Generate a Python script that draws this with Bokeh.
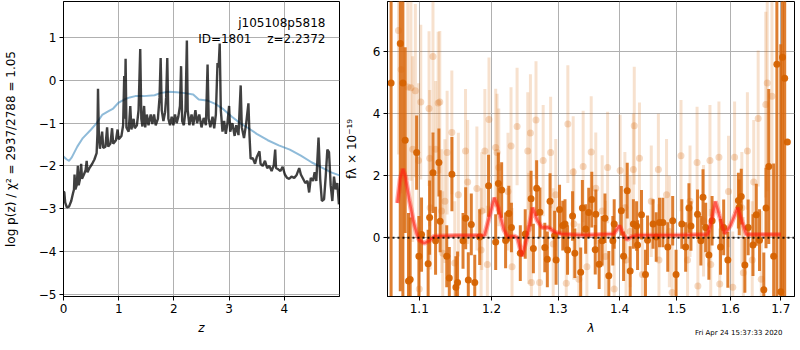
import numpy as np
from bokeh.plotting import figure
from bokeh.layouts import row, column
from bokeh.models import (ColumnDataSource, Range1d, FixedTicker, CustomJSTickFormatter,
                          PrintfTickFormatter, Label, Span, Div)
from bokeh.embed import file_html
from bokeh.resources import INLINE

FONT = "DejaVu Sans"

# ---------------- left panel: log p(z) ----------------
z_grid = [0.00, 0.015, 0.03, 0.06, 0.10, 0.14, 0.17, 0.19, 0.20, 0.215, 0.24, 0.26, 0.275, 0.30,
          0.32, 0.335, 0.37, 0.40, 0.42, 0.435, 0.47, 0.52, 0.56, 0.60, 0.615, 0.625, 0.64, 0.66,
          0.70, 0.72, 0.76, 0.79, 0.81, 0.85, 0.88, 0.90, 0.95, 0.98, 1.00, 1.05, 1.08, 1.10,
          1.11, 1.125, 1.14, 1.18, 1.21, 1.23, 1.27, 1.29, 1.33, 1.36, 1.39, 1.41, 1.43, 1.46,
          1.48, 1.51, 1.54, 1.58, 1.61, 1.64, 1.67, 1.71, 1.74, 1.76, 1.78, 1.81, 1.84, 1.86,
          1.88, 1.90, 1.93, 1.96, 1.99, 2.02, 2.05, 2.08, 2.11, 2.13, 2.15, 2.18, 2.21, 2.235,
          2.25, 2.28, 2.32, 2.35, 2.39, 2.42, 2.46, 2.50, 2.54, 2.58, 2.61, 2.63, 2.66, 2.70,
          2.73, 2.76, 2.79, 2.81, 2.83, 2.85, 2.88, 2.91, 2.94, 2.97, 3.00, 3.02, 3.06, 3.10,
          3.13, 3.17, 3.21, 3.23, 3.27, 3.31, 3.35, 3.37, 3.39, 3.43, 3.47, 3.50, 3.55, 3.57,
          3.61, 3.65, 3.69, 3.73, 3.77, 3.81, 3.835, 3.85, 3.89, 3.93, 3.97, 4.01, 4.05, 4.09,
          4.13, 4.18, 4.22, 4.27, 4.30, 4.34, 4.38, 4.42, 4.45, 4.48, 4.52, 4.55, 4.58, 4.62,
          4.65, 4.68, 4.72, 4.75, 4.78, 4.81, 4.84, 4.87, 4.90, 4.93, 4.96, 4.99]
log_pz = [-2.60, -2.62, -2.85, -2.97, -2.95, -2.82, -2.65, -2.55, -2.20, -2.55, -2.45, -2.00, -2.45, -2.30,
          -1.95, -2.30, -2.20, -2.10, -1.88, -2.15, -2.05, -1.95, -1.85, -1.70, -1.25, -0.20, -1.25, -1.60,
          -1.20, -1.58, -1.55, -1.10, -1.55, -1.48, -1.12, -1.48, -1.40, -1.15, -1.38, -1.30, -1.05, 0.10,
          -0.90, 0.50, -1.10, -1.20, -0.60, -1.15, -0.90, -1.12, -1.05, -0.70, 0.73, -0.90, -1.08, -0.60,
          -1.10, -0.80, -1.05, -0.80, -1.02, -0.80, -1.05, -0.90, -0.40, 0.52, -0.70, -0.95, -0.75, -0.40,
          0.52, -0.90, -1.05, -0.85, -1.05, -0.80, -1.00, -0.85, -0.60, 0.33, -0.95, -1.05, -0.70, 0.93,
          -0.70, -1.05, -0.80, -1.05, -0.70, -1.00, -0.80, -1.10, -0.88, -1.05, 0.37, -0.90, -1.10, -0.85,
          -1.12, -0.80, 0.40, 0.30, 0.86, -0.70, -1.20, -0.95, -1.25, -1.00, -0.60, -1.20, -1.00, -1.30,
          -1.05, -1.28, -0.12, -1.10, -1.35, -1.00, -0.54, -1.30, -1.83, -1.82, -1.95, -1.80, -1.66, -1.95,
          -2.00, -1.88, -2.05, -2.00, -2.12, -1.98, -1.62, -2.05, -2.08, -2.12, -2.02, -2.20, -2.28, -2.30,
          -2.25, -2.28, -2.22, -2.05, -2.20, -2.30, -2.40, -2.35, -2.62, -2.28, -2.35, -2.15, -2.35, -1.34,
          -2.30, -2.82, -2.78, -2.25, -1.62, -1.68, -2.45, -2.82, -2.25, -2.55, -2.40, -2.90]

z_prior = [0.00, 0.06, 0.10, 0.15, 0.25, 0.35, 0.50, 0.60, 0.70, 0.80, 0.90, 1.00, 1.10, 1.20, 1.30,
           1.45, 1.65, 1.75, 1.90, 2.05, 2.20, 2.35, 2.45, 2.60, 2.75, 2.90, 3.05, 3.20, 3.35, 3.50,
           3.70, 3.90, 4.10, 4.30, 4.50, 4.70, 4.85, 5.00]
log_prior = [-1.78, -1.85, -1.88, -1.80, -1.55, -1.35, -1.15, -1.00, -0.81, -0.73, -0.66, -0.52, -0.45,
             -0.40, -0.37, -0.37, -0.35, -0.30, -0.27, -0.28, -0.30, -0.33, -0.45, -0.47, -0.55, -0.68,
             -0.85, -1.00, -1.12, -1.25, -1.40, -1.52, -1.62, -1.76, -1.92, -2.05, -2.15, -2.22]

left_xticks = [0, 1, 2, 3, 4]
left_yticks = [-5, -4, -3, -2, -1, 0, 1]

# ---------------- right panel: spectrum ----------------
dark_wave = [1.0633, 1.0751, 1.0785, 1.0815, 1.0858, 1.0880, 1.0965, 1.0995, 1.1030, 1.1118, 1.1138,
             1.1183, 1.1218, 1.1263, 1.1280, 1.1370, 1.1405, 1.1441, 1.1496, 1.1519, 1.1595, 1.1632,
             1.1669, 1.1711, 1.1760, 1.1830, 1.1957, 1.2060, 1.2099, 1.2147, 1.2205, 1.2252, 1.2291,
             1.2423, 1.2497, 1.2585, 1.2620, 1.2670, 1.2720, 1.2795, 1.2834, 1.2876, 1.2947, 1.2970,
             1.3024, 1.3075, 1.3110, 1.3150, 1.3230, 1.3266, 1.3360, 1.3387, 1.3440, 1.3490, 1.3540,
             1.3596, 1.3606, 1.3660, 1.3710, 1.3756, 1.3820, 1.3887, 1.3910, 1.4030, 1.4068, 1.4130,
             1.4180, 1.4235, 1.4290, 1.4307, 1.4375, 1.4444, 1.4480, 1.4576, 1.4632, 1.4690, 1.4750,
             1.4837, 1.4925, 1.4986, 1.5090, 1.5160, 1.5220, 1.5257, 1.5378, 1.5440, 1.5480, 1.5530,
             1.5590, 1.5650, 1.5810, 1.5870, 1.5950, 1.6154, 1.6170, 1.6210, 1.6280, 1.6345, 1.6440,
             1.6506, 1.6570, 1.6656, 1.6700, 1.6755, 1.6855, 1.6920, 1.7000, 1.7035, 1.7080, 1.7135]
dark_flux = [5.00, 6.27, 5.00, 3.15, -1.40, -1.35, 2.75, -0.60, 0.10, -0.84, 0.65,
             2.10, -0.10, 2.43, 0.53, -0.60, -1.30, 2.05, -1.60, -1.45, -0.10, 0.63,
             -1.37, 0.43, -1.45, 0.02, 1.68, -0.14, 1.75, 1.54, -0.09, 0.78, 0.33,
             -0.50, 0.12, 1.26, -0.35, 1.60, 0.82, -0.32, -0.70, 1.18, 0.07, -0.72,
             0.91, 0.39, 0.44, -0.40, 0.70, -0.50, -1.12, 0.96, 0.28, 0.81, 1.23,
             -0.39, 0.76, -0.86, -0.10, 0.63, -1.23, -0.10, 0.44, 0.87, -0.60, 1.52,
             -1.08, 0.44, 0.38, -0.24, 0.74, -1.19, -0.08, 0.44, 0.02, 0.49, 0.49,
             -0.30, 0.55, -1.19, 0.44, -0.30, 0.96, 0.38, 0.76, -0.10, 1.31, 0.33,
             -0.56, 0.55, -0.30, 0.33, -0.72, 1.20, 0.98, 1.33, -0.88, 0.33, -0.24,
             0.74, -0.08, -1.68, 0.96, 2.30, -0.60, 5.60, -1.75, 5.83, 5.15, 3.09]
dark_err = [8.0, 8.0, 8.0, 3.0, 2.2, 2.0, 1.2, 1.3, 1.2, 1.1, 1.2,
            1.3, 1.1, 1.1, 1.0, 1.0, 1.0, 1.2, 1.0, 1.0, 0.9, 1.0,
            0.9, 1.0, 0.9, 0.9, 1.0, 0.9, 1.0, 0.9, 0.9, 0.9, 0.8,
            0.9, 0.8, 0.9, 0.8, 0.9, 0.8, 0.8, 0.9, 0.9, 0.8, 0.8,
            0.8, 0.8, 0.8, 0.8, 0.8, 0.8, 0.8, 0.9, 0.8, 0.8, 0.9,
            0.8, 0.8, 0.8, 0.8, 0.8, 0.8, 0.8, 0.8, 0.8, 0.8, 0.9,
            0.8, 0.8, 0.8, 0.8, 0.8, 0.8, 0.8, 0.8, 0.8, 0.8, 0.8,
            0.8, 0.8, 0.8, 0.8, 0.8, 0.8, 0.8, 0.8, 0.8, 0.9, 0.8,
            0.8, 0.8, 0.9, 0.9, 0.9, 0.9, 0.9, 0.9, 0.9, 0.9, 1.0,
            1.0, 1.0, 1.2, 1.3, 2.5, 3.0, 8.0, 8.0, 8.0, 8.0, 0.0]

light_wave = [1.0728, 1.0762, 1.0849, 1.0890, 1.0913, 1.0948, 1.0990, 1.1020, 1.1000, 1.1130,
              1.1145, 1.1139, 1.1183, 1.1220, 1.1253, 1.1275, 1.1300, 1.1315, 1.1345, 1.1375,
              1.1440, 1.1480, 1.1530, 1.1630, 1.1660, 1.1790, 1.1850, 1.1860, 1.1904, 1.1940,
              1.1963, 1.2060, 1.2080, 1.2105, 1.2240, 1.2285, 1.2300, 1.2375, 1.2535, 1.2550,
              1.2575, 1.2590, 1.2660, 1.2715, 1.2770, 1.2885, 1.2925, 1.2965, 1.3130, 1.3155,
              1.3240, 1.3250, 1.3330, 1.3400, 1.3460, 1.3530, 1.3605, 1.3710, 1.3765, 1.3800,
              1.3910, 1.4010, 1.4090, 1.4110, 1.4180, 1.4235, 1.4250, 1.4340, 1.4390, 1.4545,
              1.4670, 1.4680, 1.4815, 1.4865, 1.4915, 1.5075, 1.5195, 1.5240, 1.5370, 1.5385,
              1.5490, 1.5610, 1.5625, 1.5780, 1.5795, 1.5963, 1.6045, 1.6080, 1.6221, 1.6250,
              1.6330, 1.6425, 1.6455, 1.6543, 1.6605, 1.6695, 1.6725, 1.6820]
light_flux = [6.69, 5.43, 4.87, 4.84, 2.86, 4.75, 2.49, 4.38, -1.66, 4.17,
              0.97, 2.57, 5.85, 2.86, 4.35, 4.38, 0.86, -0.50, 1.18, 2.75,
              3.40, -0.82, 1.39, 2.80, 1.80, 1.59, -0.40, 0.86, 2.80, -0.87,
              3.82, 2.91, 2.75, 2.27, 1.49, 2.96, -0.94, 3.59, 2.80, 0.30,
              3.38, -1.45, 3.80, -1.45, 2.49, 2.75, -0.20, 1.39, -1.47, 3.67,
              2.12, 0.44, -1.34, 2.30, -0.94, 2.77, 1.60, 0.86, -0.61, 2.27,
              -1.66, 2.17, 0.97, -0.72, 0.20, 2.20, 3.62, 2.57, -1.19, 1.18,
              2.20, -0.72, 1.39, 0.20, -1.77, 2.65, -0.72, 1.18, 2.43, -1.56,
              0.55, 2.49, -0.87, 2.60, -1.50, 1.49, -1.60, 2.60, 0.97, -1.13,
              2.80, -0.72, 1.80, 3.85, -1.34, 4.30, 5.00, 4.57]
light_err = [4.0, 4.0, 3.0, 3.0, 3.0, 2.8, 2.5, 2.5, 2.0, 2.5,
             2.0, 2.2, 2.5, 2.2, 2.3, 2.3, 2.0, 2.0, 2.0, 2.0,
             2.0, 2.0, 2.0, 2.0, 2.0, 2.0, 2.0, 1.9, 2.0, 1.9,
             2.0, 1.9, 1.9, 1.9, 1.9, 1.9, 1.9, 1.9, 1.9, 1.8,
             1.9, 1.8, 1.9, 1.8, 1.8, 1.8, 1.8, 1.8, 1.8, 1.9,
             1.8, 1.8, 1.8, 1.8, 1.8, 1.8, 1.8, 1.8, 1.8, 1.8,
             1.8, 1.8, 1.8, 1.8, 1.8, 1.8, 1.9, 1.8, 1.8, 1.8,
             1.8, 1.8, 1.8, 1.8, 1.8, 1.8, 1.8, 1.8, 1.8, 1.8,
             1.8, 1.8, 1.8, 1.8, 1.8, 1.8, 1.8, 1.8, 1.8, 1.8,
             1.9, 1.9, 2.0, 2.2, 2.2, 3.0, 3.5, 4.0]

model_wave = [1.0713, 1.0750, 1.0785, 1.0820, 1.0870, 1.0920, 1.0970, 1.1000, 1.1065, 1.1130,
              1.1200, 1.1500, 1.1900, 1.1960, 1.2040, 1.2100, 1.2180, 1.2240, 1.2330, 1.2380,
              1.2450, 1.2510, 1.2610, 1.2680, 1.2750, 1.2840, 1.2950, 1.3050, 1.3200, 1.3400,
              1.3900, 1.3960, 1.4000, 1.4060, 1.4125, 1.4200, 1.4300, 1.5000, 1.5565, 1.5640,
              1.5712, 1.5790, 1.5890, 1.6000, 1.6140, 1.6230, 1.6310, 1.6600, 1.7000]
model_flux = [1.12, 1.90, 2.22, 1.95, 1.20, 0.55, 0.10, -0.08, -0.18, -0.10,
              0.05, 0.07, 0.08, 0.60, 1.29, 0.95, 0.25, 0.02, 0.05, 0.00,
              -0.60, -0.10, 0.97, 0.55, 0.33, 0.34, 0.18, 0.12, 0.10, 0.08,
              0.12, 0.28, 0.39, 0.12, -0.06, 0.03, 0.08, 0.08, 0.10, 0.55,
              1.17, 0.70, 0.13, 0.39, 0.97, 0.50, 0.10, 0.10, 0.10]

right_xticks = [1.1, 1.2, 1.3, 1.4, 1.5, 1.6, 1.7]
right_yticks = [0, 2, 4, 6]

obj_name = "j105108p5818"
obj_id = "ID=1801"
obj_z = "z=2.2372"
timestamp = "Fri Apr 24 15:37:33 2020"

ORANGE = "#d8670c"
MINUS_FMT = CustomJSTickFormatter(code="return tick < 0 ? '\u2212' + Math.abs(tick) : '' + tick;")


def style(p):
    p.outline_line_color = "black"
    p.outline_line_width = 1
    p.background_fill_color = "white"
    p.border_fill_color = "white"
    for ax in p.axis:
        ax.major_label_text_font = FONT
        ax.major_label_text_font_size = "12px"
        ax.major_label_text_color = "black"
        ax.axis_label_text_font = FONT
        ax.axis_label_text_font_size = "12px"
        ax.axis_label_text_color = "black"
        ax.minor_tick_line_color = None
        ax.major_tick_in = 0
        ax.major_tick_out = 4
        ax.major_label_standoff = 3
        ax.axis_line_color = "black"
        ax.major_tick_line_color = "black"
    p.grid.grid_line_color = "#b0b0b0"
    p.grid.grid_line_width = 1


# ---- left figure ----
p1 = figure(frame_width=276, frame_height=295, min_border_left=54, min_border_right=2,
            min_border_top=1, min_border_bottom=38, output_backend="svg", toolbar_location=None,
            x_range=Range1d(0, 5.0), y_range=Range1d(-5.05, 1.84))
p1.line(z_prior, log_prior, line_color="#1f77b4", line_alpha=0.5, line_width=2)
p1.line(z_grid, log_pz, line_color="black", line_alpha=0.75, line_width=2.4)
style(p1)
p1.xaxis.ticker = FixedTicker(ticks=left_xticks)
p1.yaxis.ticker = FixedTicker(ticks=left_yticks)
p1.yaxis.formatter = MINUS_FMT
p1.xaxis.axis_label = "z"
p1.xaxis.axis_label_text_font_style = "italic"
p1.yaxis.axis_label = "log p(z) / \u03c7\u00b2 = 2937/2788 = 1.05"
p1.yaxis.axis_label_text_font_style = "normal"
p1.yaxis.axis_label_standoff = 18
p1.xaxis.axis_label_standoff = 5
for txt, xr, yb in [(obj_name, 262, 21.5), (obj_id, 188, 37.5), (obj_z, 262, 37.5)]:
    p1.add_layout(Label(x=xr, y=295 - yb, x_units="screen", y_units="screen", text=txt,
                        text_align="right", text_baseline="alphabetic", text_font=FONT,
                        text_font_size="12px", text_color="black"))

# ---- right figure ----
dark = ColumnDataSource(dict(w=dark_wave, f=dark_flux,
                             lo=np.array(dark_flux) - np.array(dark_err),
                             hi=np.array(dark_flux) + np.array(dark_err)))
light = ColumnDataSource(dict(w=light_wave, f=light_flux,
                              lo=np.array(light_flux) - np.array(light_err),
                              hi=np.array(light_flux) + np.array(light_err)))

p2 = figure(frame_width=407, frame_height=295, min_border_left=44, min_border_right=1,
            min_border_top=1, min_border_bottom=38, output_backend="svg", toolbar_location=None,
            x_axis_type="log", x_range=Range1d(1.0587, 1.7283), y_range=Range1d(-1.9, 7.63))
p2.segment(x0="w", y0="lo", x1="w", y1="hi", source=light, line_color=ORANGE,
           line_alpha=0.2, line_width=3)
p2.scatter(x="w", y="f", source=light, size=7, fill_color=ORANGE, fill_alpha=0.25,
           line_color=None)
p2.segment(x0="w", y0="lo", x1="w", y1="hi", source=dark, line_color=ORANGE,
           line_alpha=0.85, line_width=3)
p2.scatter(x="w", y="f", source=dark, size=7, fill_color="#d56200", fill_alpha=0.95,
           line_color=None)
p2.line(model_wave, model_flux, line_color="#ff2010", line_alpha=0.35, line_width=5)
p2.line(model_wave, model_flux, line_color="#ff2010", line_alpha=0.6, line_width=2.5)
p2.add_layout(Span(location=0, dimension="width", line_color="black", line_width=2,
                   line_dash="2 3", line_alpha=0.85))
style(p2)
p2.xaxis.ticker = FixedTicker(ticks=right_xticks)
p2.xaxis.formatter = PrintfTickFormatter(format="%.1f")
p2.yaxis.ticker = FixedTicker(ticks=right_yticks)
p2.yaxis.formatter = MINUS_FMT
p2.xaxis.axis_label = "\u03bb"
p2.xaxis.axis_label_text_font_style = "italic"
p2.yaxis.axis_label = "f\u03bb \u00d7 10\u207b\u00b9\u2079"
p2.yaxis.axis_label_text_font_style = "normal"
p2.yaxis.axis_label_standoff = 11
p2.xaxis.axis_label_standoff = 5

stamp = Div(text=timestamp, width=88, height=8, margin=(-8, 0, 0, 695),
            styles={"font-family": FONT, "font-size": "7px", "line-height": "8px",
                    "color": "black", "white-space": "nowrap"})

layout = column(row(p1, p2), stamp)
open("out.html", "w").write(file_html(layout, INLINE))
